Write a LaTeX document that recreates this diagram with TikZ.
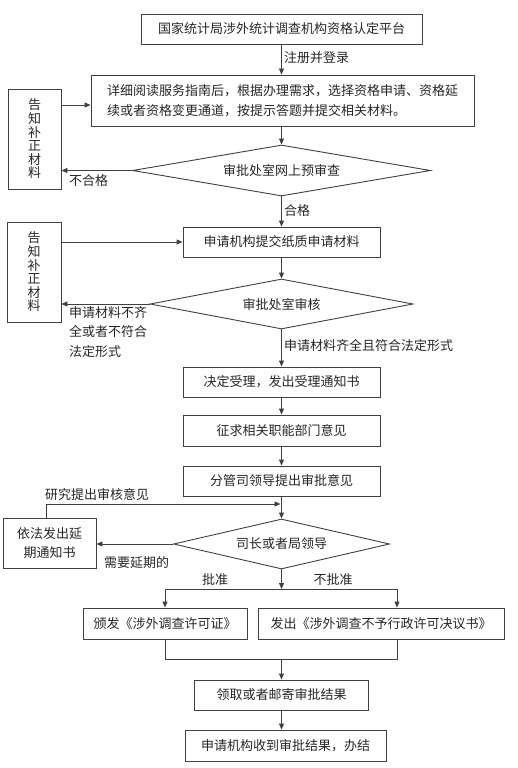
\documentclass[tikz,border=0pt]{standalone}
\usepackage{fontspec}
\newfontfamily\cjk{Noto Sans CJK SC}
\usetikzlibrary{shapes.geometric,arrows.meta}
\begin{document}
\begin{tikzpicture}[x=1pt,y=-1pt,
  every node/.style={font=\cjk\fontsize{13}{15}\selectfont, text=black!85},
  box/.style={draw=black!75, rectangle, inner sep=0pt, line width=0.9pt},
  dia/.style={draw=black!75, diamond, inner sep=0pt, line width=0.9pt},
  arr/.style={draw=black!75, line width=0.9pt, -{Triangle[length=6pt,width=5pt]}},
  ln/.style={draw=black!75, line width=0.9pt},
  lbl/.style={inner sep=0pt},
  vtext/.style={align=center, font=\cjk\fontsize{13}{13.6}\selectfont}]
\fill[white] (0,0) rectangle (518,768);
\useasboundingbox (0,0) rectangle (518,768);

% main column
\node[box, minimum width=281pt, minimum height=30pt] (b1) at (281.5,29) {国家统计局涉外统计调查机构资格认定平台};
\node[box, minimum width=383pt, minimum height=51pt, align=left, font=\cjk\fontsize{13}{20}\selectfont] (b2) at (282.5,100.5)
  {详细阅读服务指南后，根据办理需求，选择资格申请、资格延\\续或者资格变更通道，按提示答题并提交相关材料。};
\node[dia, aspect=5.84, minimum width=298pt, minimum height=51pt] (d1) at (281.5,170.5) {审批处室网上预审查};
\node[box, minimum width=197pt, minimum height=30pt] (b3) at (281.5,242) {申请机构提交纸质申请材料};
\node[dia, aspect=5.26, minimum width=263pt, minimum height=50pt] (d2) at (281.5,304) {审批处室审核};
\node[box, minimum width=197pt, minimum height=30pt] (b4) at (281.5,382) {决定受理，发出受理通知书};
\node[box, minimum width=197pt, minimum height=31pt] (b5) at (281.5,430.5) {征求相关职能部门意见};
\node[box, minimum width=197pt, minimum height=30pt] (b6) at (281.5,481) {分管司领导提出审批意见};
\node[dia, aspect=4.32, minimum width=216pt, minimum height=50pt] (d3) at (281.5,544) {司长或者局领导};
\node[box, minimum width=164pt, minimum height=31pt] (b7l) at (165,623.5) {颁发《涉外调查许可证》};
\node[box, minimum width=246pt, minimum height=31pt] (b7r) at (381,623.5) {发出《涉外调查不予行政许可决议书》};
\node[box, minimum width=174pt, minimum height=30pt] (b8) at (281.5,695) {领取或者邮寄审批结果};
\node[box, minimum width=201pt, minimum height=31pt] (b9) at (285.5,745.5) {申请机构收到审批结果，办结};

% left boxes
\node[box, vtext, minimum width=53pt, minimum height=100pt] (lb1) at (34.5,139) {告\\知\\补\\正\\材\\料};
\node[box, vtext, minimum width=54pt, minimum height=100pt] (lb2) at (34,272) {告\\知\\补\\正\\材\\料};
\node[box, align=center, font=\cjk\fontsize{13}{19}\selectfont, minimum width=93pt, minimum height=50pt] (lb3) at (49.5,543) {依法发出延\\期通知书};

% coordinates
\coordinate (j) at (281.5,504);
\coordinate (s) at (281.5,589);
\coordinate (sl) at (165,589);
\coordinate (sr) at (397,589);
\coordinate (ml) at (165,659);
\coordinate (mr) at (397,659);
\coordinate (m) at (281.5,659);
\coordinate (lb1a) at (61,105);

% main arrows
\draw[arr] (b1) -- (b2.north -| b1.south);
\draw[arr] (b2.south -| d1.north) -- (d1.north);
\draw[arr] (d1) -- (b3);
\draw[arr] (b3) -- (d2);
\draw[arr] (d2) -- (b4);
\draw[arr] (b4) -- (b5);
\draw[arr] (b5) -- (b6);
\draw[arr] (b6) -- (d3);
\draw[arr] (d3.south) -- (s);
\draw[ln] (sl) -- (sr);
\draw[arr] (sl) -- (sl |- b7l.north);
\draw[arr] (sr) -- (sr |- b7r.north);
\draw[ln] (b7l.south) -- (ml) -- (mr) -- (mr |- b7r.south);
\draw[arr] (m) -- (b8.north);
\draw[arr] (b8.south) -- (b8.south |- b9.north);

% side arrows
\draw[arr] (lb1a) -- (lb1a -| b2.west);
\draw[arr] (d1.west) -- (d1.west -| lb1.east);
\draw[arr] (lb2.east |- b3.west) -- (b3.west);
\draw[arr] (d2.west) -- (d2.west -| lb2.east);
\draw[arr] (d3.west) -- (d3.west -| lb3.east);
\draw[arr] (lb3.north -| 46,0) |- ([xshift=-1pt]j);

% labels
\node[lbl, anchor=west] (t1) at (284,58) {注册并登录};
\node[lbl, anchor=west] (t2) at (69,181) {不合格};
\node[lbl, anchor=west] (t3) at (284,211) {合格};
\node[lbl, anchor=north west, align=left, font=\cjk\fontsize{13}{19.5}\selectfont] (t4) at (69,306) {申请材料不齐\\全或者不符合\\法定形式};
\node[lbl, anchor=west] (t5) at (284,346) {申请材料齐全且符合法定形式};
\node[lbl, anchor=west] (t6) at (45,495) {研究提出审核意见};
\node[lbl, anchor=west] (t7) at (104,563) {需要延期的};
\node[lbl] (t8) at (215,580) {批准};
\node[lbl] (t9) at (333,580) {不批准};
\end{tikzpicture}
\end{document}
